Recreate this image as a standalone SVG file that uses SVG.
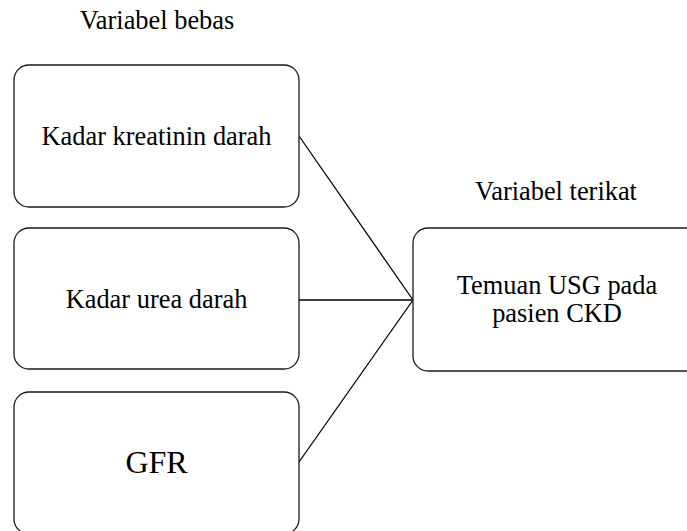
<svg xmlns="http://www.w3.org/2000/svg" width="687" height="531" viewBox="0 0 687 531">
<style>
.box{fill:#fff;stroke:#1a1a1a;stroke-width:1.3}
text{font-family:"Times New Roman","Liberation Serif",Tinos,"Nimbus Roman","DejaVu Serif",serif;font-size:26.4px;fill:#000;text-anchor:middle}
.big{font-size:32px}
.conn line{stroke:#000;stroke-width:1.3}
</style>
<rect width="687" height="531" fill="#fff"/>
<text x="157" y="29">Variabel bebas</text>
<text x="556" y="200">Variabel terikat</text>
<g id="conn" class="conn">
<line x1="299" y1="136" x2="413" y2="300"/>
<line x1="299" y1="300" x2="413" y2="300"/>
<line x1="299" y1="462" x2="413" y2="300"/>
</g>
<g id="n1"><rect class="box" x="14" y="65" width="285" height="142" rx="15"/><text x="156.5" y="145">Kadar kreatinin darah</text></g>
<g id="n2"><rect class="box" x="14" y="228" width="285" height="141" rx="15"/><text x="156.5" y="308">Kadar urea darah</text></g>
<g id="n3"><rect class="box" x="14" y="392" width="285" height="142" rx="15"/><text class="big" x="156.5" y="473">GFR</text></g>
<g id="n4"><rect class="box" x="413" y="228" width="290" height="143" rx="15"/><text x="557" y="294">Temuan USG pada</text><text x="557" y="322">pasien CKD</text></g>
</svg>
